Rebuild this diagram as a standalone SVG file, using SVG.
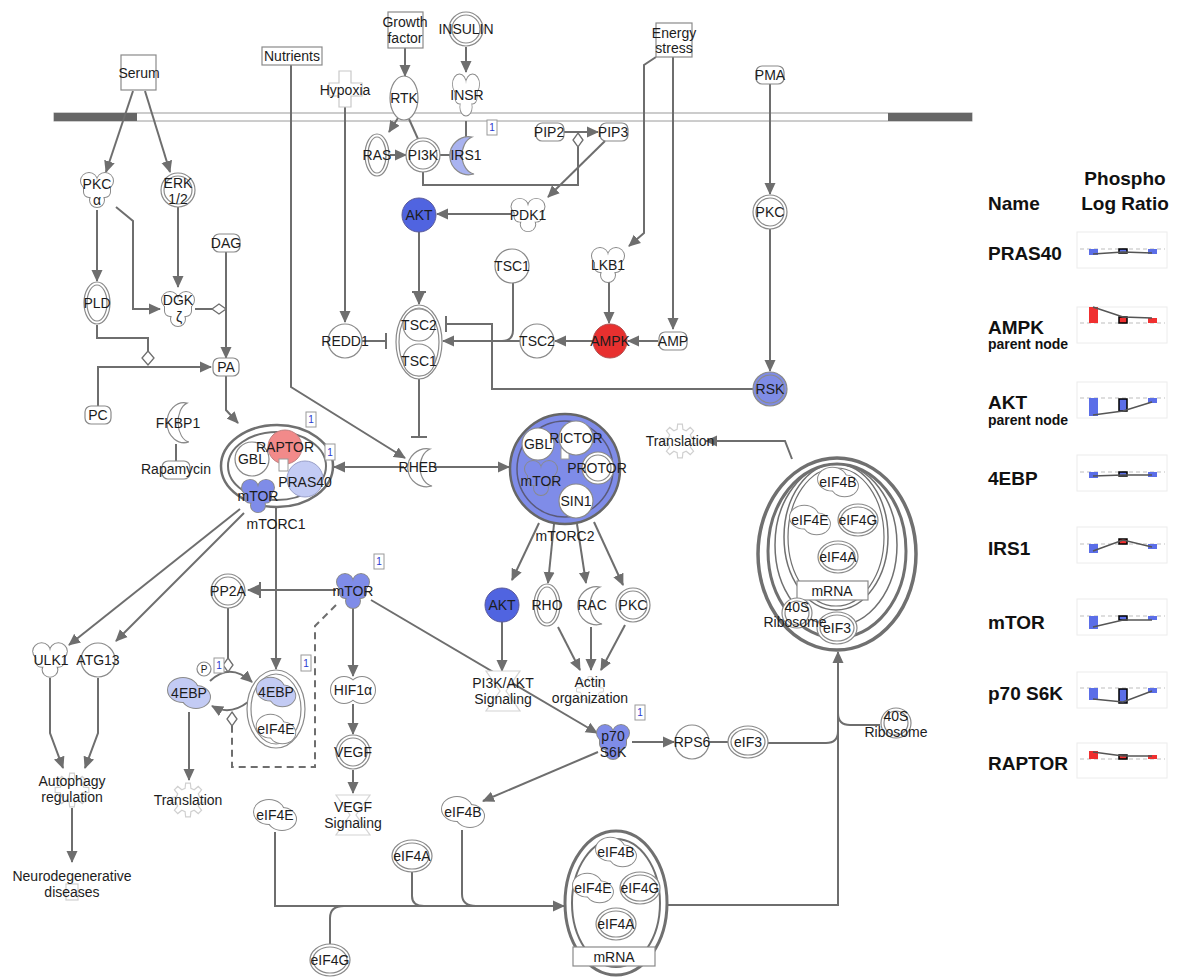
<svg xmlns="http://www.w3.org/2000/svg" width="1178" height="978" viewBox="0 0 1178 978">
<style>
.c{fill:none;stroke:#6e6e6e;stroke-width:2}
.a{marker-end:url(#ar)}
.b{marker-end:url(#tb)}
.d{stroke-dasharray:7 5}
.n{fill:#fff;stroke:#8a8a8a;stroke-width:1.2}
.o{fill:none;stroke:#8a8a8a;stroke-width:1.2}
.cx{fill:#fff;stroke:#707070;stroke-width:2.5}
.cxo{fill:none;stroke:#707070;stroke-width:2}
.dm{fill:#fff;stroke:#6e6e6e;stroke-width:1.3}
.f{fill:#fff;stroke:#d2d2d2;stroke-width:1.2}
.t{font-family:"Liberation Sans",Arial,sans-serif;font-size:14px;fill:#1c1c1c;text-anchor:middle}
.bd rect{fill:#fff;stroke:#9a9a9a;stroke-width:1}
.bd text{font-family:"Liberation Sans",Arial,sans-serif;font-size:10px;fill:#2a3ad0;text-anchor:middle}
.lg{font-family:"Liberation Sans",Arial,sans-serif;font-weight:bold;fill:#111}
.cb{fill:#fff;stroke:#ececec;stroke-width:1}
.bl{stroke:#bdbdbd;stroke-width:1.2;stroke-dasharray:4 3}
.tl{fill:none;stroke:#555;stroke-width:1.5}
.bu{fill:#5b6ee8}
.re{fill:#f03030}
.mk{stroke:#000;stroke-width:1.5}
</style>
<defs>
<marker id="ar" viewBox="0 0 12 12" refX="11" refY="6" markerWidth="12" markerHeight="12" markerUnits="userSpaceOnUse" orient="auto"><path d="M0,0.5 L12,6 L0,11.5 Z" fill="#6e6e6e"/></marker>
<marker id="tb" viewBox="0 0 4 16" refX="2" refY="8" markerWidth="4" markerHeight="16" markerUnits="userSpaceOnUse" orient="auto"><path d="M2,0 V16" stroke="#6e6e6e" stroke-width="2"/></marker>
<g id="kin">
<g stroke="#8a8a8a" stroke-width="2"><circle cx="-8" cy="-9" r="8"/><circle cx="8" cy="-9" r="8"/><circle cx="0" cy="10" r="7"/><rect x="-13" y="-9" width="26" height="16" rx="5"/></g>
<g stroke="none"><circle cx="-8" cy="-9" r="8"/><circle cx="8" cy="-9" r="8"/><circle cx="0" cy="10" r="7"/><rect x="-13" y="-9" width="26" height="16" rx="5"/></g>
</g>
<g id="blob">
<g stroke="#8a8a8a" stroke-width="2"><ellipse cx="-6" cy="-3" rx="15" ry="12"/><ellipse cx="7" cy="4" rx="14" ry="11"/></g>
<g stroke="none"><ellipse cx="-6" cy="-3" rx="15" ry="12"/><ellipse cx="7" cy="4" rx="14" ry="11"/></g>
</g>
<g id="pea">
<g stroke="#8a8a8a" stroke-width="2"><circle cx="-9" cy="0" r="13"/><circle cx="9" cy="0" r="13"/></g>
<g stroke="none"><circle cx="-9" cy="0" r="13"/><circle cx="9" cy="0" r="13"/></g>
</g>
<path id="cres" d="M10,-19 A19 19 0 1 0 12,18 A14 19 0 0 1 10,-19 Z" stroke="#8a8a8a" stroke-width="1.2"/>
<polygon id="gear" points="11.64,-2.90 16.84,-2.37 16.84,2.37 11.64,2.90 10.29,6.18 13.58,10.23 10.23,13.58 6.18,10.29 2.90,11.64 2.37,16.84 -2.37,16.84 -2.90,11.64 -6.18,10.29 -10.23,13.58 -13.58,10.23 -10.29,6.18 -11.64,2.90 -16.84,2.37 -16.84,-2.37 -11.64,-2.90 -10.29,-6.18 -13.58,-10.23 -10.23,-13.58 -6.18,-10.29 -2.90,-11.64 -2.37,-16.84 2.37,-16.84 2.90,-11.64 6.18,-10.29 10.23,-13.58 13.58,-10.23 10.29,-6.18" fill="#fff" stroke="#d0d0d0" stroke-width="1.2"/>
<path id="hg" d="M-17,-20 H17 L3,0 L17,20 H-17 L-3,0 Z" fill="#fff" stroke="#d4d4d4" stroke-width="1.2"/>
</defs>
<rect width="1178" height="978" fill="#fff"/>

<g id="membrane">
<rect x="54" y="113" width="918" height="8" fill="#fff" stroke="#9a9a9a" stroke-width="1"/>
<rect x="54" y="113" width="83" height="8" fill="#666"/>
<rect x="888" y="113" width="84" height="8" fill="#666"/>
</g>

<g id="connectors">
<path class="c a" d="M133,91 L106,172"/>
<path class="c a" d="M145,91 L170,172"/>
<path class="c a" d="M97,210 L97,281"/>
<path class="c a" d="M116,207 L133,221 L133,309 L160,309"/>
<path class="c a" d="M178,207 L178,287"/>
<path class="c" d="M195,309 L212,309"/>
<path class="dm" d="M212,309 L219,304 L226,309 L219,314 Z"/>
<path class="c a" d="M226,252 L226,358"/>
<path class="c" d="M97,325 L97,338 L148,338 L148,351"/>
<path class="dm" d="M148,351 L154,358 L148,365 L142,358 Z"/>
<path class="c a" d="M98,406 L98,367 L211,367"/>
<path class="c a" d="M226,376 L226,410 L238,423"/>
<path class="c" d="M176,444 L176,461"/>
<path class="c a" d="M291,65 L291,387 L405,458"/>
<path class="c a" d="M345,107 L345,322"/>
<path class="c b" d="M362,341 L386,341"/>
<path class="c a" d="M405,48 L405,76"/>
<path class="c a" d="M466,47 L466,72"/>
<path class="c a" d="M398,118 L389,132"/>
<path class="c" d="M409,119 L418,139"/>
<path class="c" d="M466,121 L466,140"/>
<path class="c a" d="M390,155 L406,155"/>
<path class="c" d="M440,155 L452,155"/>
<path class="c a" d="M564,132 L598,132"/>
<path class="c" d="M423,172 L423,185 L578,185 L578,147"/>
<path class="dm" d="M578,133 L583,140 L578,147 L573,140 Z"/>
<path class="c a" d="M605,141 L548,197"/>
<path class="c a" d="M511,214 L437,214"/>
<path class="c a" d="M419,232 L419,304"/>
<path class="c" d="M412,292 L426,292"/>
<path class="c a" d="M656,57 L644,65 L644,233 L629,246"/>
<path class="c a" d="M673,57 L673,329"/>
<path class="c a" d="M609,282 L609,323"/>
<path class="c a" d="M658,341 L628,341"/>
<path class="c a" d="M593,341 L555,341"/>
<path class="c a" d="M520,341 L443,341"/>
<path class="c" d="M513,283 L513,330 Q513,341 502,341"/>
<path class="c a" d="M770,84 L770,194"/>
<path class="c a" d="M770,229 L770,371"/>
<path class="c b" d="M753,389 L492,389 L492,324 L446,324"/>
<path class="c b" d="M419,379 L419,437"/>
<path class="c a" d="M434,467 L509,467"/>
<path class="c a" d="M404,467 L334,467"/>
<path class="c a" d="M240,509 L69,645"/>
<path class="c a" d="M244,513 L116,641"/>
<path class="c a" d="M50,678 L50,733 L63,768"/>
<path class="c a" d="M98,678 L98,733 L85,768"/>
<path class="c a" d="M72,808 L72,862"/>
<path class="c a" d="M276,507 L276,669"/>
<path class="c a" d="M336,590 L248,590"/>
<path class="c" d="M260,582 L260,598"/>
<path class="c" d="M228,608 L228,658"/>
<path class="c a" d="M210,681 Q230,662 252,682"/>
<path class="dm" d="M228,658 L233,665 L228,672 L223,665 Z"/>
<path class="c a" d="M248,702 Q230,716 212,706"/>
<path class="c d" d="M336,605 L315,626 L315,767 L232,767 L232,726"/>
<path class="dm" d="M232,712 L237,719 L232,726 L227,719 Z"/>
<path class="c a" d="M189,712 L189,780"/>
<path class="c a" d="M353,608 L353,676"/>
<path class="c a" d="M353,704 L353,734"/>
<path class="c a" d="M353,770 L353,793"/>
<path class="c a" d="M371,600 L597,733"/>
<path class="c a" d="M539,523 L512,580"/>
<path class="c a" d="M554,524 L548,583"/>
<path class="c a" d="M577,524 L586,583"/>
<path class="c a" d="M594,522 L623,585"/>
<path class="c a" d="M502,622 L502,671"/>
<path class="c a" d="M558,627 L580,670"/>
<path class="c a" d="M591,627 L591,670"/>
<path class="c a" d="M625,625 L601,670"/>
<path class="c a" d="M632,742 L674,742"/>
<path class="c" d="M709,742 L728,742"/>
<path class="c" d="M768,743 L826,743 Q838,743 838,731"/>
<path class="c" d="M880,725 L850,725 Q838,725 838,713"/>
<path class="c a" d="M667,905 L838,905 L838,652"/>
<path class="c a" d="M792,459 L785,441 L706,441"/>
<path class="c a" d="M598,752 L483,801"/>
<path class="c a" d="M275,832 L275,906 L564,906"/>
<path class="c" d="M412,872 L412,896 Q412,906 424,906"/>
<path class="c" d="M462,830 L462,894 Q462,906 476,906"/>
<path class="c" d="M330,944 L330,918 Q330,906 344,906"/>
</g>

<g id="serum"><rect class="n" x="121" y="55" width="35" height="35"/><text class="t" x="139" y="78">Serum</text></g>
<g id="nutrients"><rect class="n" x="262" y="47" width="60" height="18"/><text class="t" x="292" y="61">Nutrients</text></g>
<g id="hypoxia"><path d="M339,71 H351 V83 H362 V96 H351 V107 H339 V96 H329 V83 H339 Z" fill="#fff" stroke="#c8c8c8" stroke-width="1.2"/><text class="t" x="345" y="95">Hypoxia</text></g>
<g id="growth"><rect class="n" x="388" y="12" width="35" height="36"/><text class="t" x="405" y="27">Growth</text><text class="t" x="405" y="43">factor</text></g>
<g id="insulin"><circle class="n" cx="466" cy="29" r="17"/><circle class="o" cx="466" cy="29" r="14"/><text class="t" x="466" y="34">INSULIN</text></g>
<g id="energy"><rect class="n" x="656" y="23" width="36" height="34"/><text class="t" x="674" y="38">Energy</text><text class="t" x="674" y="53">stress</text></g>
<g id="pma"><rect class="n" x="756" y="66" width="28" height="18" rx="6"/><text class="t" x="770" y="80">PMA</text></g>

<g id="rtk"><ellipse class="n" cx="404" cy="98" rx="14" ry="22"/><text class="t" x="404" y="103">RTK</text></g>
<g id="insr"><use href="#kin" transform="translate(466,95) scale(0.82,1.2)" fill="#fff"/><text class="t" x="467" y="100">INSR</text></g>
<g id="ras"><ellipse class="n" cx="377" cy="155" rx="12" ry="21"/><ellipse class="o" cx="377" cy="155" rx="9" ry="18"/><text class="t" x="377" y="160">RAS</text></g>
<g id="pi3k"><circle class="n" cx="423" cy="155" r="17"/><circle class="o" cx="423" cy="155" r="14"/><text class="t" x="423" y="160">PI3K</text></g>
<g id="irs1"><use href="#cres" transform="translate(462,156)" fill="#a9b3f0"/><text class="t" x="466" y="160">IRS1</text></g>
<g id="pip2"><rect class="n" x="536" y="123" width="28" height="18" rx="6"/><text class="t" x="549" y="137">PIP2</text></g>
<g id="pip3"><rect class="n" x="600" y="123" width="28" height="18" rx="6"/><text class="t" x="613" y="137">PIP3</text></g>
<g id="pdk1"><use href="#kin" transform="translate(528,215) scale(1.03,0.95)" fill="#fff"/><text class="t" x="528" y="220">PDK1</text></g>
<g id="akt1"><circle cx="419" cy="215" r="17" fill="#5064e0" stroke="#5a5a9a" stroke-width="1"/><text class="t" x="419" y="220">AKT</text></g>

<g id="pkca"><use href="#kin" transform="translate(97,190)" fill="#fff"/><text class="t" x="97" y="189">PKC</text><text class="t" x="97" y="205">α</text></g>
<g id="erk"><circle class="n" cx="178" cy="190" r="17"/><circle class="o" cx="178" cy="190" r="14"/><text class="t" x="178" y="188">ERK</text><text class="t" x="178" y="204">1/2</text></g>
<g id="dag"><rect class="n" x="213" y="234" width="27" height="18" rx="6"/><text class="t" x="226" y="248">DAG</text></g>
<g id="pld"><ellipse class="n" cx="97" cy="303" rx="13" ry="21"/><ellipse class="o" cx="97" cy="303" rx="10" ry="18"/><text class="t" x="97" y="308">PLD</text></g>
<g id="dgk"><use href="#kin" transform="translate(178,309)" fill="#fff"/><text class="t" x="178" y="305">DGK</text><text class="t" x="179" y="322">ζ</text></g>
<g id="pa"><rect class="n" x="213" y="358" width="26" height="18" rx="6"/><text class="t" x="226" y="372">PA</text></g>
<g id="pc"><rect class="n" x="85" y="406" width="26" height="18" rx="6"/><text class="t" x="98" y="420">PC</text></g>
<g id="fkbp1"><use href="#cres" transform="translate(178,423) scale(0.9,1.05)" fill="#fff"/><text class="t" x="178" y="428">FKBP1</text></g>
<g id="rapamycin"><rect class="n" x="162" y="461" width="28" height="18" rx="6"/><text class="t" x="176" y="474">Rapamycin</text></g>

<g id="redd1"><circle class="n" cx="345" cy="341" r="17"/><text class="t" x="345" y="346">REDD1</text></g>
<g id="tsc-complex"><ellipse class="n" cx="419" cy="342" rx="23" ry="37"/><ellipse class="o" cx="419" cy="342" rx="20" ry="34"/><circle class="n" cx="419" cy="325" r="16"/><circle class="n" cx="419" cy="360" r="16"/><text class="t" x="419" y="330">TSC2</text><text class="t" x="419" y="366">TSC1</text></g>
<g id="tsc1"><circle class="n" cx="512" cy="266" r="17"/><text class="t" x="512" y="271">TSC1</text></g>
<g id="tsc2"><circle class="n" cx="537" cy="341" r="17"/><text class="t" x="537" y="346">TSC2</text></g>
<g id="lkb1"><use href="#kin" transform="translate(608,265)" fill="#fff"/><text class="t" x="608" y="270">LKB1</text></g>
<g id="ampk"><circle cx="610" cy="341" r="17" fill="#e8302f" stroke="#b05050" stroke-width="1"/><text class="t" x="610" y="346">AMPK</text></g>
<g id="amp"><rect class="n" x="659" y="332" width="28" height="18" rx="6"/><text class="t" x="673" y="346">AMP</text></g>
<g id="pkc1"><circle class="n" cx="770" cy="212" r="17"/><circle class="o" cx="770" cy="212" r="14"/><text class="t" x="770" y="217">PKC</text></g>
<g id="rsk"><circle cx="770" cy="389" r="17" fill="#7f8ce6" stroke="#8a8a8a" stroke-width="1.2"/><circle class="o" cx="770" cy="389" r="14"/><text class="t" x="770" y="394">RSK</text></g>
<g id="rheb"><use href="#cres" transform="translate(420,468)" fill="#fff"/><text class="t" x="418" y="472">RHEB</text></g>

<g id="mtorc1">
<ellipse class="cx" cx="277" cy="466" rx="56" ry="41"/>
<ellipse class="cxo" cx="277" cy="466" rx="49" ry="34"/>
<circle class="n" cx="252" cy="459" r="17"/>
<circle cx="285" cy="447" r="17" fill="#f28a8a" stroke="#c08080" stroke-width="1"/>
<g class="bd"><rect x="279" y="459" width="9" height="12"/></g>
<circle cx="305" cy="479" r="18" fill="#c3cbf4" stroke="#9aa0c8" stroke-width="1"/>
<use href="#kin" transform="translate(258,496) scale(1,0.95)" fill="#7f8ce8"/>
<text class="t" x="252" y="464">GBL</text>
<text class="t" x="285" y="452">RAPTOR</text>
<text class="t" x="305" y="487">PRAS40</text>
<text class="t" x="258" y="501">mTOR</text>
<text class="t" x="276" y="529">mTORC1</text>
</g>

<g id="mtorc2">
<circle cx="565" cy="469" r="55" fill="#7f8ce8" stroke="#666" stroke-width="2.5"/>
<circle cx="565" cy="469" r="48" fill="none" stroke="#5a5a7a" stroke-width="1.5"/>
<use href="#kin" transform="translate(541,478)" fill="#7f8ce8"/>
<g class="bd"><rect x="561" y="448" width="8" height="11"/></g>
<circle class="n" cx="538" cy="444" r="16"/>
<circle class="n" cx="576" cy="438" r="17"/>
<circle class="n" cx="598" cy="468" r="16"/><circle class="o" cx="598" cy="468" r="13"/>
<circle class="n" cx="576" cy="501" r="17"/>
<text class="t" x="538" y="449">GBL</text>
<text class="t" x="576" y="443">RICTOR</text>
<text class="t" x="597" y="473">PROTOR</text>
<text class="t" x="541" y="486">mTOR</text>
<text class="t" x="576" y="506">SIN1</text>
<text class="t" x="565" y="541">mTORC2</text>
</g>

<g id="ulk1"><use href="#kin" transform="translate(50,660) scale(1.05,0.98)" fill="#fff"/><text class="t" x="51" y="665">ULK1</text></g>
<g id="atg13"><circle class="n" cx="98" cy="660" r="17"/><text class="t" x="98" y="665">ATG13</text></g>
<g id="autophagy"><use href="#gear" transform="translate(72,790)"/><text class="t" x="72" y="786">Autophagy</text><text class="t" x="72" y="802">regulation</text></g>
<g id="neuro"><rect x="66" y="884" width="12" height="16" fill="#fff" stroke="#d0d0d0" stroke-width="1.2"/><text class="t" x="72" y="881">Neurodegenerative</text><text class="t" x="72" y="897">diseases</text></g>

<g id="pp2a"><circle class="n" cx="228" cy="591" r="17"/><circle class="o" cx="228" cy="591" r="14"/><text class="t" x="228" y="596">PP2A</text></g>
<g id="mtor2"><use href="#kin" transform="translate(353,591)" fill="#7f8ce8"/><text class="t" x="353" y="596">mTOR</text></g>
<g id="p"><circle class="n" cx="204" cy="669" r="7"/><text class="t" x="204" y="673" style="font-size:10px">P</text></g>
<g id="4ebp1"><use href="#blob" transform="translate(189,693)" fill="#c3cbf4"/><text class="t" x="189" y="698">4EBP</text></g>
<g id="4ebp-complex"><ellipse class="n" cx="276" cy="709" rx="29" ry="39"/><ellipse class="o" cx="276" cy="709" rx="25" ry="35"/><use href="#blob" transform="translate(276,692) scale(0.92,0.95)" fill="#c3cbf4"/><use href="#blob" transform="translate(276,729) scale(0.92,0.95)" fill="#fff"/><text class="t" x="276" y="697">4EBP</text><text class="t" x="276" y="734">eIF4E</text></g>
<g id="translation1"><use href="#gear" transform="translate(188,800)"/><text class="t" x="188" y="805">Translation</text></g>
<g id="hif1a"><use href="#pea" transform="translate(353,690)" fill="#fff"/><text class="t" x="353" y="695">HIF1α</text></g>
<g id="vegf"><circle class="n" cx="353" cy="752" r="17"/><circle class="o" cx="353" cy="752" r="14"/><text class="t" x="353" y="757">VEGF</text></g>
<g id="vegfsig"><use href="#hg" transform="translate(353,815)"/><text class="t" x="353" y="812">VEGF</text><text class="t" x="353" y="828">Signaling</text></g>

<g id="akt2"><circle cx="502" cy="605" r="17" fill="#5064e0" stroke="#5a5a9a" stroke-width="1"/><text class="t" x="502" y="610">AKT</text></g>
<g id="rho"><ellipse class="n" cx="547" cy="605" rx="13" ry="21"/><ellipse class="o" cx="547" cy="605" rx="10" ry="18"/><text class="t" x="547" y="610">RHO</text></g>
<g id="rac"><use href="#cres" transform="translate(590,606)" fill="#fff"/><text class="t" x="592" y="610">RAC</text></g>
<g id="pkc2"><circle class="n" cx="633" cy="605" r="17"/><circle class="o" cx="633" cy="605" r="14"/><text class="t" x="633" y="610">PKC</text></g>
<g id="pi3kakt"><use href="#hg" transform="translate(503,691)"/><text class="t" x="503" y="688">PI3K/AKT</text><text class="t" x="503" y="704">Signaling</text></g>
<g id="actin"><use href="#gear" transform="translate(590,690) scale(0.8)"/><text class="t" x="590" y="687">Actin</text><text class="t" x="590" y="703">organization</text></g>
<g id="p70"><use href="#kin" transform="translate(613,742)" fill="#7f8ce8"/><text class="t" x="613" y="741">p70</text><text class="t" x="613" y="757">S6K</text></g>
<g id="rps6"><circle class="n" cx="692" cy="742" r="17"/><text class="t" x="692" y="747">RPS6</text></g>
<g id="eif3"><ellipse class="n" cx="748" cy="742" rx="20" ry="16"/><ellipse class="o" cx="748" cy="742" rx="17" ry="13"/><text class="t" x="748" y="747">eIF3</text></g>
<g id="ribo40s"><circle class="n" cx="896" cy="723" r="15"/><circle class="o" cx="896" cy="723" r="12"/><text class="t" x="896" y="721">40S</text><text class="t" x="896" y="737">Ribosome</text></g>
<g id="translation2"><use href="#gear" transform="translate(680,441)"/><text class="t" x="680" y="446">Translation</text></g>

<g id="complex-right">
<ellipse class="cx" cx="837" cy="554" rx="79" ry="96" style="stroke-width:3.5"/>
<ellipse class="cxo" cx="837" cy="551" rx="69" ry="87" style="stroke-width:3"/>
<ellipse class="cxo" cx="836" cy="545" rx="61" ry="81" style="stroke-width:1.5"/>
<ellipse class="cxo" cx="836" cy="537" rx="52" ry="73" style="stroke-width:1.5"/>
<ellipse class="cxo" cx="836" cy="537" rx="48" ry="69" style="stroke-width:1.2"/>
<use href="#blob" transform="translate(838,482) scale(0.95)" fill="#fff"/>
<use href="#blob" transform="translate(810,520) scale(0.95)" fill="#fff"/>
<ellipse class="n" cx="858" cy="520" rx="20" ry="16"/><ellipse class="o" cx="858" cy="520" rx="17" ry="13"/>
<ellipse class="n" cx="838" cy="557" rx="20" ry="16"/><ellipse class="o" cx="838" cy="557" rx="17" ry="13"/>
<rect x="797" y="581" width="71" height="19" fill="#fff" stroke="#8a8a8a" stroke-width="1.2"/>
<circle class="n" cx="797" cy="613" r="15"/><circle class="o" cx="797" cy="613" r="12"/>
<ellipse class="n" cx="837" cy="628" rx="20" ry="16"/><ellipse class="o" cx="837" cy="628" rx="17" ry="13"/>
<text class="t" x="838" y="487">eIF4B</text>
<text class="t" x="810" y="525">eIF4E</text>
<text class="t" x="858" y="525">eIF4G</text>
<text class="t" x="838" y="562">eIF4A</text>
<text class="t" x="832" y="596">mRNA</text>
<text class="t" x="797" y="612">40S</text>
<text class="t" x="795" y="627">Ribosome</text>
<text class="t" x="837" y="633">eIF3</text>
</g>

<g id="eif4e-b"><use href="#blob" transform="translate(275,815)" fill="#fff"/><text class="t" x="275" y="820">eIF4E</text></g>
<g id="eif4b-b"><use href="#blob" transform="translate(463,812)" fill="#fff"/><text class="t" x="463" y="817">eIF4B</text></g>
<g id="eif4a-b"><ellipse class="n" cx="412" cy="856" rx="20" ry="16"/><ellipse class="o" cx="412" cy="856" rx="17" ry="13"/><text class="t" x="412" y="861">eIF4A</text></g>
<g id="eif4g-b"><ellipse class="n" cx="330" cy="960" rx="20" ry="16"/><ellipse class="o" cx="330" cy="960" rx="17" ry="13"/><text class="t" x="330" y="965">eIF4G</text></g>

<g id="complex-bottom">
<ellipse class="cx" cx="616" cy="903" rx="51" ry="72" style="stroke-width:3"/>
<ellipse class="cxo" cx="616" cy="903" rx="44" ry="64"/>
<use href="#blob" transform="translate(616,852) scale(0.95)" fill="#fff"/>
<use href="#blob" transform="translate(593,888) scale(0.95)" fill="#fff"/>
<ellipse class="n" cx="640" cy="888" rx="20" ry="16"/><ellipse class="o" cx="640" cy="888" rx="17" ry="13"/>
<ellipse class="n" cx="616" cy="924" rx="20" ry="16"/><ellipse class="o" cx="616" cy="924" rx="17" ry="13"/>
<rect x="573" y="947" width="82" height="19" fill="#fff" stroke="#8a8a8a" stroke-width="1.2"/>
<text class="t" x="616" y="857">eIF4B</text>
<text class="t" x="593" y="893">eIF4E</text>
<text class="t" x="640" y="893">eIF4G</text>
<text class="t" x="616" y="929">eIF4A</text>
<text class="t" x="614" y="962">mRNA</text>
</g>

<g id="badges" class="bd">
<rect x="487" y="120" width="10" height="15"/><text x="492" y="131">1</text>
<rect x="306" y="412" width="10" height="15"/><text x="311" y="423">1</text>
<rect x="325" y="444" width="10" height="16"/><text x="330" y="456">1</text>
<rect x="374" y="554" width="10" height="15"/><text x="379" y="565">1</text>
<rect x="214" y="658" width="10" height="15"/><text x="219" y="669">1</text>
<rect x="301" y="655" width="10" height="16"/><text x="306" y="667">1</text>
<rect x="635" y="705" width="10" height="15"/><text x="640" y="716">1</text>
</g>

<g id="legend">
<text class="lg" x="988" y="210" font-size="19">Name</text>
<text class="lg" x="1125" y="185" font-size="19" text-anchor="middle">Phospho</text>
<text class="lg" x="1125" y="210" font-size="19" text-anchor="middle">Log Ratio</text>

<text class="lg" x="988" y="260" font-size="19">PRAS40</text>
<rect class="cb" x="1077" y="232" width="90" height="36"/>
<line class="bl" x1="1080" y1="249" x2="1165" y2="249"/>
<rect class="bu" x="1089" y="249" width="9" height="6"/>
<rect class="bu mk" x="1119" y="249" width="8" height="4"/>
<rect class="bu" x="1148" y="249" width="9" height="5"/>
<polyline class="tl" points="1093,254 1123,252 1152,253"/>

<text class="lg" x="988" y="334" font-size="19">AMPK</text>
<text class="lg" x="988" y="349" font-size="14">parent node</text>
<rect class="cb" x="1077" y="307" width="90" height="36"/>
<line class="bl" x1="1080" y1="323" x2="1165" y2="323"/>
<rect class="re" x="1089" y="307" width="9" height="16"/>
<rect class="re mk" x="1119" y="317" width="8" height="6"/>
<rect class="re" x="1148" y="318" width="9" height="5"/>
<polyline class="tl" points="1093,307 1123,317 1152,318"/>

<text class="lg" x="988" y="409" font-size="19">AKT</text>
<text class="lg" x="988" y="425" font-size="14">parent node</text>
<rect class="cb" x="1077" y="382" width="90" height="36"/>
<line class="bl" x1="1080" y1="398" x2="1165" y2="398"/>
<rect class="bu" x="1089" y="398" width="9" height="18"/>
<rect class="bu mk" x="1119" y="399" width="8" height="12"/>
<rect class="bu" x="1148" y="398" width="9" height="5"/>
<polyline class="tl" points="1093,415 1123,411 1152,402"/>

<text class="lg" x="988" y="485" font-size="19">4EBP</text>
<rect class="cb" x="1077" y="455" width="90" height="36"/>
<line class="bl" x1="1080" y1="472" x2="1165" y2="472"/>
<rect class="bu" x="1089" y="472" width="9" height="6"/>
<rect class="bu mk" x="1119" y="472" width="8" height="4"/>
<rect class="bu" x="1148" y="472" width="9" height="5"/>
<polyline class="tl" points="1093,476 1123,475 1152,475"/>

<text class="lg" x="988" y="555" font-size="19">IRS1</text>
<rect class="cb" x="1077" y="527" width="90" height="36"/>
<line class="bl" x1="1080" y1="544" x2="1165" y2="544"/>
<rect class="bu" x="1089" y="544" width="9" height="9"/>
<rect class="re mk" x="1119" y="539" width="8" height="5"/>
<rect class="bu" x="1148" y="544" width="9" height="5"/>
<polyline class="tl" points="1093,551 1123,540 1152,547"/>

<text class="lg" x="988" y="629" font-size="19">mTOR</text>
<rect class="cb" x="1077" y="599" width="90" height="36"/>
<line class="bl" x1="1080" y1="616" x2="1165" y2="616"/>
<rect class="bu" x="1089" y="616" width="9" height="13"/>
<rect class="bu mk" x="1119" y="616" width="8" height="4"/>
<rect class="bu" x="1148" y="616" width="9" height="4"/>
<polyline class="tl" points="1093,627 1123,620 1152,620"/>

<text class="lg" x="988" y="700" font-size="19">p70 S6K</text>
<rect class="cb" x="1077" y="672" width="90" height="36"/>
<line class="bl" x1="1080" y1="688" x2="1165" y2="688"/>
<rect class="bu" x="1089" y="688" width="9" height="12"/>
<rect class="bu mk" x="1119" y="689" width="8" height="14"/>
<rect class="bu" x="1148" y="688" width="9" height="5"/>
<polyline class="tl" points="1093,699 1123,702 1152,691"/>

<text class="lg" x="988" y="770" font-size="19">RAPTOR</text>
<rect class="cb" x="1077" y="743" width="90" height="35"/>
<line class="bl" x1="1080" y1="759" x2="1165" y2="759"/>
<rect class="re" x="1089" y="751" width="9" height="8"/>
<rect class="re mk" x="1119" y="755" width="8" height="4"/>
<rect class="re" x="1148" y="755" width="9" height="4"/>
<polyline class="tl" points="1093,752 1123,756 1152,756"/>
</g>
</svg>
